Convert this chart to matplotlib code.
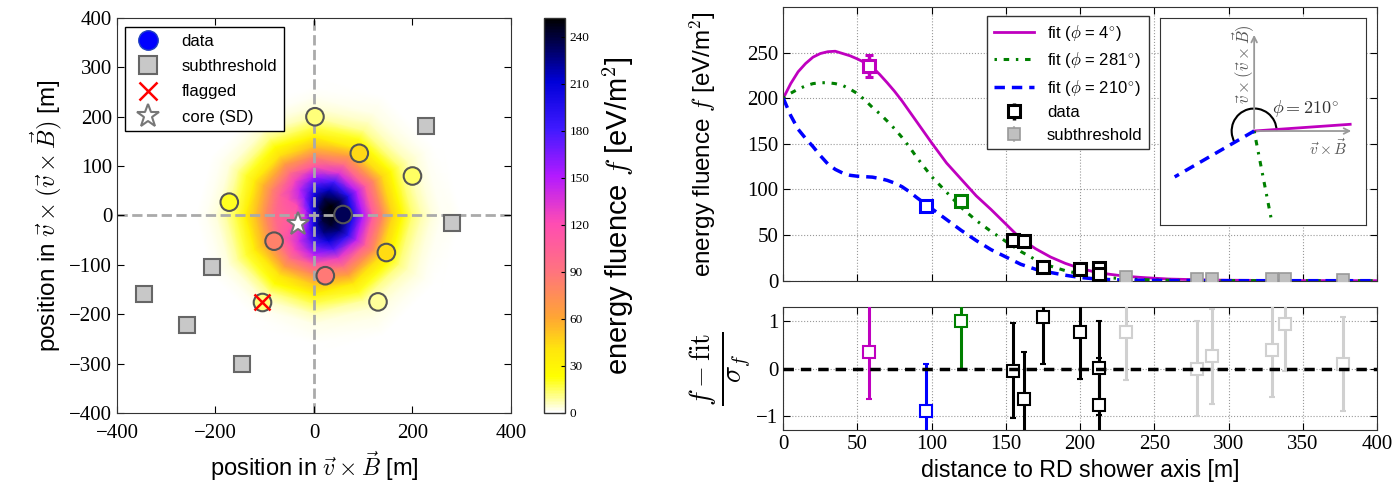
import numpy as np
import matplotlib
matplotlib.use("Agg")
import matplotlib.pyplot as plt
from matplotlib.colors import LinearSegmentedColormap, Normalize
from matplotlib.lines import Line2D
from matplotlib.patches import Arc

plt.rcParams['font.family'] = ['Liberation Serif', 'DejaVu Serif']
plt.rcParams['mathtext.fontset'] = 'cm'
plt.rcParams['xtick.direction'] = 'in'
plt.rcParams['ytick.direction'] = 'in'
plt.rcParams['xtick.top'] = True
plt.rcParams['ytick.right'] = True
plt.rcParams['xtick.major.size'] = 5
plt.rcParams['ytick.major.size'] = 5
plt.rcParams['axes.edgecolor'] = '#333333'
SANS = 'Liberation Sans'

# --- left panel: footprint in the shower plane ---
# fluence map sampled on a polar grid (radius in m, angle in deg)
hm_radius = [0, 20, 40, 60, 80, 100, 120, 140, 160, 180, 200, 220, 240, 260, 280, 300, 320, 340]
hm_angle = [0, 30, 60, 90, 120, 150, 180, 210, 240, 270, 300, 330, 360]
hm_0   = [200, 245, 249, 234, 197, 151, 111, 78, 46, 26, 13.5, 7, 3.7, 1.8, 1.0, 0.5, 0.3, 0.15]
hm_30  = [200, 246, 252, 236, 196, 148, 108, 75, 45, 25, 13, 6.6, 3.4, 1.6, 0.9, 0.4, 0.2, 0.1]
hm_60  = [200, 234, 236, 215, 178, 133, 95, 65, 38, 21, 10.5, 5, 2.4, 1.1, 0.5, 0.25, 0.1, 0.05]
hm_90  = [200, 212, 206, 184, 152, 112, 79, 52, 31, 16, 7.5, 3.2, 1.4, 0.5, 0.2, 0.1, 0, 0]
hm_120 = [200, 178, 158, 145, 125, 93, 66, 42, 24, 12, 5.2, 2, 0.8, 0.3, 0.13, 0.03, 0, 0]
hm_150 = [200, 150, 122, 116, 104, 80, 56, 35, 19, 9.5, 3.8, 1.3, 0.5, 0.2, 0.1, 0, 0, 0]
hm_180 = [200, 138, 106, 104, 96, 75, 52, 32, 16, 8, 3, 1, 0.4, 0.16, 0.09, 0, 0, 0]
hm_210 = [200, 147, 118, 113.5, 103, 79, 55, 34, 18, 9, 3.5, 1.2, 0.5, 0.2, 0.1, 0, 0, 0]
hm_240 = [200, 171, 151, 140, 122, 91, 64, 41, 23, 11, 4.9, 1.9, 0.8, 0.3, 0.13, 0.03, 0, 0]
hm_270 = [200, 204, 197, 176, 147, 108, 76, 50, 30, 15, 6.8, 2.8, 1.2, 0.45, 0.2, 0.08, 0, 0]
hm_300 = [200, 227, 227, 207, 172, 128, 92, 63, 37, 20, 9.8, 4.7, 2.2, 1.0, 0.5, 0.25, 0.1, 0.05]
hm_330 = [200, 240, 243, 227, 190, 145, 106, 74, 44, 24, 12.5, 6.4, 3.3, 1.6, 0.9, 0.4, 0.2, 0.1]
hm_values = [hm_0, hm_30, hm_60, hm_90, hm_120, hm_150, hm_180,
             hm_210, hm_240, hm_270, hm_300, hm_330, hm_0]

# stations with signal (x, y in m, fluence)
st_x = [2, 92, 200, -172, 59, -81, 23, 147, 130]
st_y = [200, 126, 80, 27, 2, -52, -122, -75, -175]
st_f = [12, 45, 14, 20, 235, 82, 87, 44, 9]
# stations below threshold
sub_x = [227, 280, -208, -345, -258, -146]
sub_y = [182, -16, -105, -159, -222, -300]
# flagged station
flag_x, flag_y, flag_f = [-106], [-175], [12]
# SD core
sd_x, sd_y = [-33], [-18]

# --- right panel: lateral distribution ---
r_fit = [0, 5, 10, 15, 20, 25, 30, 35, 40, 45, 50, 55, 60, 65, 70, 75, 80, 85, 90, 95, 100,
         110, 120, 130, 140, 150, 160, 170, 180, 190, 200, 210, 220, 230, 240, 250, 260, 270,
         280, 290, 300, 310, 320, 330, 340, 350, 360, 370, 380, 390, 400]
fit_4 = [200, 216, 229, 238, 245, 249, 251, 251.5, 249, 246.5, 243, 239, 234, 226, 217, 207.5,
         197, 185.5, 174, 162.5, 151,
         129, 111, 93, 78, 62, 46, 35, 26, 19, 13.5, 9.5, 7, 5, 3.7, 2.7, 1.8, 1.4,
         1.0, 0.7, 0.5, 0.4, 0.3, 0.2, 0.15, 0.1, 0.1, 0.05, 0.05, 0, 0]
fit_281 = [200, 205.5, 210, 213.5, 216, 217, 217, 216, 214, 210, 205, 198, 190, 183, 175, 166.5,
           157, 146.5, 135, 124.5, 114,
           97, 80, 66, 54, 43, 32, 23, 16, 11, 7.5, 5, 3.2, 2, 1.3, 0.8, 0.5, 0.3,
           0.2, 0.1, 0.1, 0.05, 0.05, 0, 0, 0, 0, 0, 0, 0, 0]
fit_210 = [200, 181, 166, 156, 147, 137, 128, 122, 118, 115.5, 114.5, 114, 113.5, 112, 110, 107,
           103, 97.5, 91, 85, 79,
           67, 55, 44, 34, 26, 18, 12.5, 9, 6, 3.5, 2, 1.2, 0.7, 0.5, 0.3, 0.2, 0.1,
           0.1, 0, 0, 0, 0, 0, 0, 0, 0, 0, 0, 0, 0]

# stations used in the fit: distance, fluence, error, residual
d_r = [58, 96, 120, 155, 162, 175, 200, 213, 213]
d_f = [235, 82, 87, 45, 44, 15.4, 12.5, 13.6, 7]
d_err = [12, 3, 4, 3, 3, 2.5, 3, 3, 2.5]
d_res = [0.35, -0.9, 1.0, -0.04, -0.64, 1.09, 0.78, 0.01, -0.78]
d_col = ['#bf00bf', '#0000ff', '#008000', 'k', 'k', 'k', 'k', 'k', 'k']
# subthreshold stations
s_r = [231, 279, 289, 329, 338, 377]
s_f = [4, 1.5, 1.8, 1.5, 2.2, 1.2]
s_res = [0.77, 0.0, 0.26, 0.39, 0.95, 0.1]

phis = [4, 281, 210]
fit_colors = ['#bf00bf', '#008000', '#0000ff']
green_ls = (0, (0.8, 2.2, 1.8, 2.2))

cmap = LinearSegmentedColormap.from_list('fluence', [
    (0.00, (1, 1, 1)), (0.09, (1, 1, 0)), (0.16, (1, 0.9, 0.05)), (0.24, (1, 0.65, 0.2)),
    (0.36, (1, 0.45, 0.5)), (0.48, (1, 0.3, 0.7)), (0.60, (0.7, 0.1, 1)),
    (0.72, (0.25, 0.1, 1)), (0.84, (0, 0, 0.85)), (0.92, (0, 0, 0.4)),
    (1.00, (0, 0, 0))])
norm = Normalize(0, 252)

fig = plt.figure(figsize=(13.93, 4.92), dpi=100)
ax = fig.add_axes([0.0840, 0.1606, 0.2828, 0.8028])
cax = fig.add_axes([0.3905, 0.1606, 0.0151, 0.8028])

th = np.deg2rad(hm_angle)
R = np.array(hm_radius)
X = np.outer(np.cos(th), R)
Y = np.outer(np.sin(th), R)
mesh = ax.pcolormesh(X, Y, np.array(hm_values), cmap=cmap, norm=norm,
                     shading='gouraud', rasterized=True, zorder=0)
ax.axhline(0, color='#aaaaaa', ls='--', lw=2, zorder=1)
ax.axvline(0, color='#aaaaaa', ls='--', lw=2, zorder=1)
ax.scatter(st_x, st_y, c=st_f, cmap=cmap, norm=norm, s=160,
           edgecolors='#555555', linewidths=1.5, zorder=3)
ax.scatter(flag_x, flag_y, c=flag_f, cmap=cmap, norm=norm, s=160,
           edgecolors='#555555', linewidths=1.5, zorder=3)
ax.plot(sub_x, sub_y, 's', ms=12, mfc='#c8c8c8', mec='#666666', mew=1.5, ls='', zorder=3)
ax.plot(flag_x, flag_y, 'x', ms=12, color='red', mew=1.8, zorder=4)
ax.plot(sd_x, sd_y, '*', ms=17, mfc='white', mec='#777777', mew=1.5, zorder=4)
ax.set_xlim(-400, 400)
ax.set_ylim(-400, 400)
ax.set_xticks(range(-400, 401, 200))
ax.set_yticks(range(-400, 401, 100))
ax.tick_params(labelsize=15)
ax.tick_params(axis='x', pad=8)
ax.set_xlabel(r'position in $\vec{v}\times\vec{B}$ [m]', fontsize=17, fontfamily=SANS)
ax.set_ylabel(r'position in $\vec{v}\times(\vec{v}\times\vec{B})$ [m]', fontsize=17.5,
              fontfamily=SANS)
handles = [
    Line2D([], [], marker='o', ls='', ms=14, mfc='#0000ff', mec='#2040c0'),
    Line2D([], [], marker='s', ls='', ms=13, mfc='#c8c8c8', mec='#666666', mew=1.5),
    Line2D([], [], marker='x', ls='', ms=13, color='red', mew=1.8),
    Line2D([], [], marker='*', ls='', ms=17, mfc='white', mec='#777777', mew=1.5)]
leg = ax.legend(handles, ['data', 'subthreshold', 'flagged', 'core (SD)'], loc='upper left',
                bbox_to_anchor=(0.02, 0.977), borderaxespad=0, prop={'family': SANS, 'size': 12},
                fancybox=False, edgecolor='k', framealpha=1, labelspacing=0.62,
                handletextpad=1.0, borderpad=0.4)
leg.get_frame().set_linewidth(1.0)

cb = fig.colorbar(mesh, cax=cax, ticks=range(0, 241, 30))
cb.ax.tick_params(labelsize=9.5, direction='in', length=3)
cb.outline.set_linewidth(1.0)
cb.set_label(r'energy fluence $f$ [eV/m$^2$]', fontsize=21, fontfamily=SANS, labelpad=8)

# --- right panel ---
ax1 = fig.add_axes([0.5623, 0.4295, 0.4262, 0.5563])
ax2 = fig.add_axes([0.5623, 0.1260, 0.4262, 0.2494])

ax1.plot(r_fit, fit_4, '-', color=fit_colors[0], lw=2, label=r'fit ($\phi$ = 4$^{\circ}$)')
ax1.plot(r_fit, fit_281, color=fit_colors[1], lw=2.2, ls=green_ls,
         label=r'fit ($\phi$ = 281$^{\circ}$)')
ax1.plot(r_fit, fit_210, color=fit_colors[2], lw=2.5, ls=(0, (3, 2)),
         label=r'fit ($\phi$ = 210$^{\circ}$)')
for i in range(len(d_r)):
    ax1.errorbar(d_r[i], d_f[i], yerr=d_err[i], fmt='s', ms=9, mfc='white', mec=d_col[i],
                 mew=2.2, color=d_col[i], elinewidth=2.5, capsize=3, capthick=2, zorder=4)
ax1.errorbar(s_r, s_f, yerr=0.8, fmt='s', ms=8, mfc='#c0c0c0', mec='#999999', mew=1.2,
             color='#c0c0c0', elinewidth=1.5, zorder=3)
ax1.set_xlim(0, 400)
ax1.set_ylim(0, 300)
ax1.set_xticks(range(0, 401, 50))
ax1.set_yticks(range(0, 251, 50))
ax1.set_xticklabels([])
ax1.grid(True, ls=':', color='#999999', lw=0.8)
ax1.tick_params(labelsize=15)
ax1.set_ylabel(r'energy fluence $f$ [eV/m$^2$]', fontsize=17.5, fontfamily=SANS)
ax1.yaxis.set_label_coords(-0.11, 0.5)

data_h = ax1.errorbar([], [], yerr=[], fmt='s', ms=8, mfc='white', mec='k', mew=2.2, color='k',
                      elinewidth=2.5, capsize=2, capthick=2)
sub_h = ax1.errorbar([], [], yerr=[], fmt='s', ms=8, mfc='#c0c0c0', mec='#999999', mew=1.2,
                     color='#c0c0c0', elinewidth=1.5)
h, l = ax1.get_legend_handles_labels()
leg2 = ax1.legend(h[:3] + [data_h, sub_h], l[:3] + ['data', 'subthreshold'], loc='upper left',
                  bbox_to_anchor=(0.343, 0.967), borderaxespad=0,
                  prop={'family': SANS, 'size': 12}, fancybox=False,
                  edgecolor='#333333', framealpha=1, labelspacing=0.45, handlelength=2.4,
                  handletextpad=0.8, numpoints=1)
leg2.get_frame().set_linewidth(1.0)

# inset sketch of the directions
ins = ax1.inset_axes([0.634, 0.205, 0.347, 0.756])
ins.set_xlim(-1.05, 1.24)
ins.set_ylim(-1.04, 1.26)
ins.set_xticks([])
ins.set_yticks([])
for s in ins.spines.values():
    s.set_color('#333333')
ins.annotate('', xy=(1.11, 0), xytext=(0, 0),
             arrowprops=dict(arrowstyle='->', color='#999999', lw=1.3))
ins.annotate('', xy=(0, 1.10), xytext=(0, 0),
             arrowprops=dict(arrowstyle='->', color='#999999', lw=1.3))
lengths = [1.07, 0.98, 1.02]
styles = ['-', green_ls, (0, (3, 2))]
widths = [2, 2.2, 2.5]
for phi, L, c, st, w in zip(phis, lengths, fit_colors, styles, widths):
    a = np.deg2rad(phi)
    ins.plot([0, L * np.cos(a)], [0, L * np.sin(a)], color=c, ls=st, lw=w)
ins.add_patch(Arc((0, 0), 0.5, 0.5, theta1=0, theta2=phis[2], color='k', lw=1.5))
ins.text(0.2, 0.25, r'$\phi = 210^{\circ}$', fontsize=13, color='#333333', va='center')
ins.text(1.03, -0.07, r'$\vec{v}\times\vec{B}$', fontsize=11, color='#555555', ha='right', va='top')
ins.text(-0.12, 0.74, r'$\vec{v}\times(\vec{v}\times\vec{B})$', fontsize=12, color='#555555',
         rotation=90, ha='center', va='center')

# residuals
ax2.axhline(0, color='k', ls=(0, (3, 2)), lw=2.5, zorder=5)
for i in range(len(d_r)):
    ax2.errorbar(d_r[i], d_res[i], yerr=1, fmt='s', ms=8, mfc='white', mec=d_col[i], mew=1.5,
                 color=d_col[i], elinewidth=2.2, capsize=2, capthick=1.5, zorder=4)
ax2.errorbar(s_r, s_res, yerr=1, fmt='s', ms=8, mfc='white', mec='#d0d0d0', mew=1.5,
             color='#d0d0d0', elinewidth=2.2, capsize=2, capthick=1.5, zorder=3)
ax2.set_xlim(0, 400)
ax2.set_ylim(-1.3, 1.3)
ax2.set_xticks(range(0, 401, 50))
ax2.set_yticks([-1, 0, 1])
ax2.grid(True, ls=':', color='#999999', lw=0.8)
ax2.tick_params(labelsize=15)
ax2.set_xlabel('distance to RD shower axis [m]', fontsize=16.7, fontfamily=SANS)
ax2.set_ylabel(r'$\frac{f - \mathrm{fit}}{\sigma_f}$', fontsize=29)
ax2.yaxis.set_label_coords(-0.05, 0.5)

fig.savefig('out.png', dpi=100)
